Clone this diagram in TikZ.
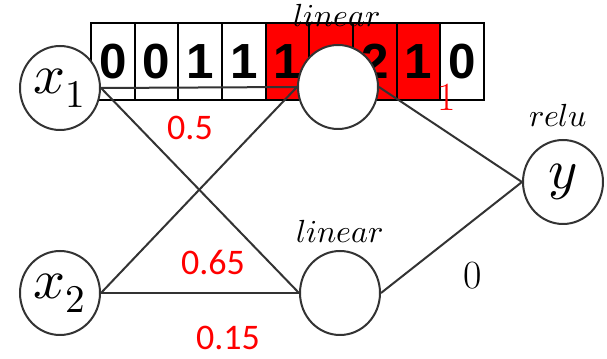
\documentclass[tikz,border=0pt]{standalone}
\usepackage{fontspec}
\usepackage{unicode-math}
\setmathfont{Latin Modern Math}
\newfontfamily\digitfont{Liberation Sans}
\newfontfamily\weightfont{Carlito}
\usetikzlibrary{shapes.geometric}
\tikzstyle{neuron}=[ellipse,draw=black!80,line width=1.5pt,fill=white,minimum width=60pt,minimum height=63pt,inner sep=0pt,font=\fontsize{42}{42}\selectfont]
\tikzstyle{cell}=[rectangle,draw=black,line width=1.5pt,minimum width=32.75pt,minimum height=57.75pt,inner sep=0pt,font=\digitfont\bfseries\fontsize{37}{37}\selectfont]
\tikzstyle{hotcell}=[cell,fill=red]
\tikzstyle{link}=[draw=black!80,line width=1.5pt]
\tikzstyle{weight}=[text=red,inner sep=1pt,font=\weightfont\fontsize{27}{27}\selectfont]
\tikzstyle{act}=[font=\fontsize{24}{24}\selectfont]

\begin{document}
\begin{tikzpicture}[x=0.75pt,y=-0.75pt]
    \useasboundingbox (0,0) rectangle (607,359);

    % Strip of cells behind the top layer
    \node[cell] (c1) at (112.8,61.5) {0};
    \node[cell] (c2) at (156.5,61.5) {0};
    \node[cell] (c3) at (200.2,61.5) {1};
    \node[cell] (c4) at (243.8,61.5) {1};
    \node[hotcell] (c5) at (287.5,61.5) {1};
    \node[hotcell] (c6) at (331.2,61.5) {};
    \node[hotcell] (c7) at (374.8,61.5) {2};
    \node[hotcell] (c8) at (418.5,61.5) {1};
    \node[cell] (c9) at (462.2,61.5) {0};

    % Inputs
    \node[neuron] (x1) at (60,88) {$x_1$};
    \node[neuron] (x2) at (60,293) {$x_2$};

    % Hidden layer
    \node[neuron] (h1) at (338,87) {};
    \node[neuron] (h2) at (340,293) {};

    % Output
    \node[neuron] (y) at (563,182) {$y$};

    % Connections
    \draw[link] (x1.east) -- (h1.west);
    \draw[link] (x1.east) -- (h2.west);
    \draw[link] (x2.east) -- (h1.west);
    \draw[link] (x2.east) -- (h2.west);
    \draw[link] (h1.east) -- (y.west);
    \draw[link] (h2.east) -- (y.west);

    % Activations
    \node[act] (a1) at (337,16) {$linear$};
    \node[act] (a2) at (340,232) {$linear$};
    \node[act] (a3) at (558,116) {$relu$};

    % Weights
    \node[weight] (w1) at (190,128) {0.5};
    \node[text=red,inner sep=1pt,font=\fontsize{30}{30}\selectfont] (w2) at (447,97) {1};
    \node[weight] (w3) at (213,262) {0.65};
    \node[weight] (w4) at (228,338) {0.15};
    \node[font=\fontsize{30}{30}\selectfont] (w5) at (473,276) {0};

\end{tikzpicture}
\end{document}
